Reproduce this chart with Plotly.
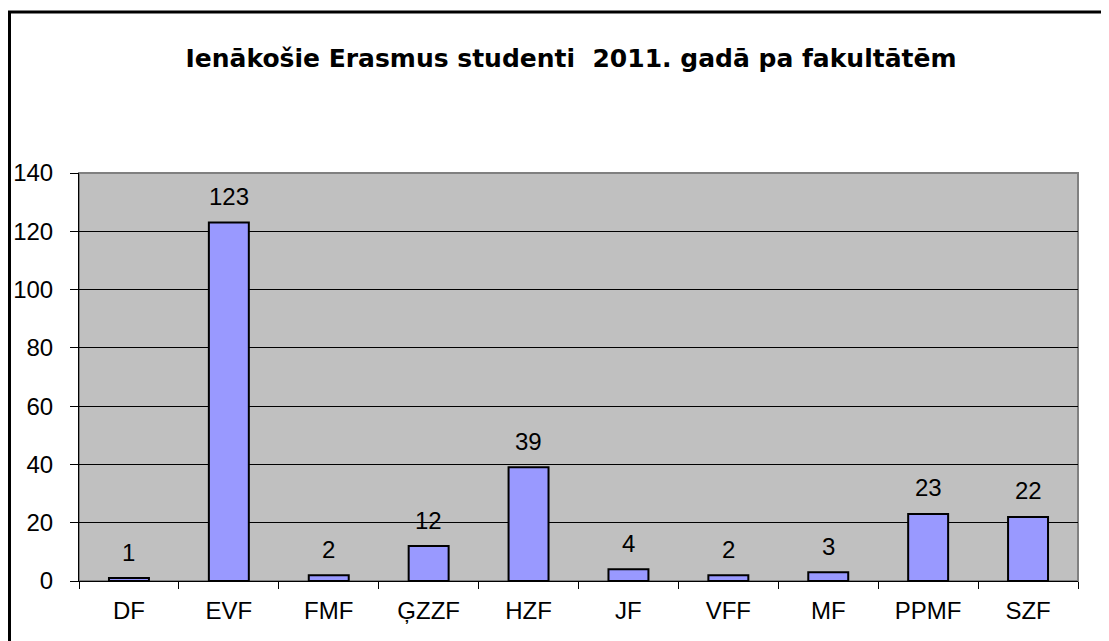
import plotly.graph_objects as go

# Incoming Erasmus students 2011 by faculty
faculties = ['DF', 'EVF', 'FMF', 'ĢZZF', 'HZF', 'JF', 'VFF', 'MF', 'PPMF', 'SZF']
students = [1, 123, 2, 12, 39, 4, 2, 3, 23, 22]
y_ticks = [0, 20, 40, 60, 80, 100, 120, 140]

# page body adds an 8px margin, so the figure is a bit smaller than the window
W, H = 1101, 633
L, R, T, B = 71, 31, 165, 60
font = 'Liberation Sans, Arial, sans-serif'

fig = go.Figure()
fig.add_trace(go.Bar(
    x=faculties, y=students,
    marker=dict(color='#9999FF', line=dict(color='black', width=2)),
    width=0.4,
    hoverinfo='x+y',
))

# value labels above bars
for f, v in zip(faculties, students):
    fig.add_annotation(x=f, y=v, text=str(v), showarrow=False,
                       yanchor='middle', yshift=26,
                       font=dict(family=font, size=24, color='black'))

pw = (W - L - R)
ph = (H - T - B)

fig.update_layout(
    width=W, height=H,
    margin=dict(l=L, r=R, t=T, b=B, pad=0),
    paper_bgcolor='white',
    plot_bgcolor='#C0C0C0',
    showlegend=False,
    title=dict(text='<b>Ienākošie Erasmus studenti\u00a0 2011. gadā pa fakultātēm</b>',
               x=563 / W, xanchor='center', xref='container',
               y=1 - 50 / H, yanchor='middle', yref='container',
               font=dict(family='DejaVu Sans, sans-serif', size=25, color='black')),
    font=dict(family=font, size=24, color='black'),
    shapes=[
        # plot area border (grey top/right)
        dict(type='rect', xref='paper', yref='paper', x0=0, x1=1, y0=0, y1=1,
             line=dict(color='#808080', width=2), layer='below'),
        # chart outer border
        dict(type='rect', xref='paper', yref='paper',
             x0=(1.5 - L) / pw, x1=(W + 20 - L) / pw,
             y0=-(B + 20) / ph, y1=1 + (T - 4) / ph,
             line=dict(color='black', width=3)),
    ],
)

fig.update_xaxes(
    type='category', tickson='boundaries', ticks='outside', ticklen=7,
    tickcolor='black', tickwidth=1, showline=True, linecolor='black',
    linewidth=1, showgrid=False, ticklabelstandoff=8, automargin=False,
    tickfont=dict(family=font, size=24, color='black'),
)
fig.update_yaxes(
    range=[0, 140], tickvals=y_ticks, ticks='outside', ticklen=8,
    tickcolor='black', tickwidth=1, showline=True, linecolor='black',
    linewidth=1, showgrid=True, gridcolor='black', gridwidth=1,
    zeroline=False, ticklabelstandoff=12, automargin=False,
    tickfont=dict(family=font, size=24, color='black'),
)

fig.write_html('out.html')
